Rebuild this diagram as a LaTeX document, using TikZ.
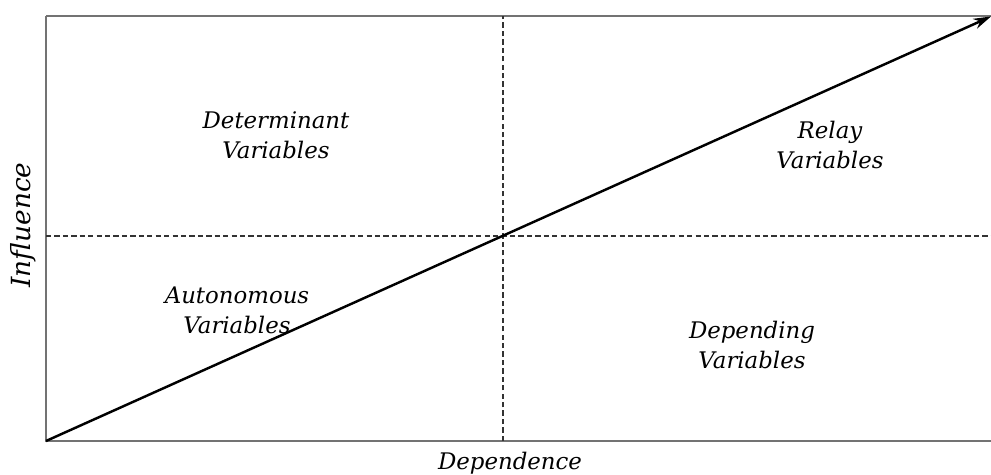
\documentclass[tikz,border=0pt]{standalone}
\usepackage{amsmath,amssymb,tikz,xcolor}
\usepackage{fontspec}
\setmainfont{DejaVu Serif}
\usetikzlibrary{arrows.meta}

\begin{document}
\begin{tikzpicture}[thick,font=\fontsize{13}{17}\selectfont\itshape]
\useasboundingbox (0,0) rectangle (19.82,9.5);
\coordinate (O) at (0.92,0.68);
\coordinate (T) at (0.92,9.18);
\coordinate (R) at (19.82,0.68);
\coordinate (E) at (19.82,9.17);
\coordinate (M) at (10.06,4.78);
\draw[gray!90!black,line width=0.8pt] (T)--(O)--(R);
\draw[gray!90!black,line width=0.8pt] (T)--(19.82,9.18);
\draw[dash pattern=on 3pt off 1.8pt,line width=0.7pt,black!80] (10.06,0.68)--(10.06,9.18);
\draw[dash pattern=on 3pt off 1.8pt,line width=0.7pt,black!80] (0.92,4.78)--(19.82,4.78);
\draw[line width=1.4pt,-{Stealth[length=10pt,width=6pt]}] (O)--(E);
\node[align=center] (det) at (5.52,6.8) {Determinant\\Variables};
\node[align=center] (rel) at (16.6,6.6) {Relay\\Variables};
\node[align=center] (aut) at (4.74,3.3) {Autonomous\\Variables};
\node[align=center] (dep) at (15.04,2.6) {Depending\\Variables};
\node[rotate=90,font=\fontsize{15}{17}\selectfont\itshape] (inf) at (0.46,5.0) {Influence};
\node (dpd) at (10.2,0.24) {Dependence};
\end{tikzpicture}
\end{document}
